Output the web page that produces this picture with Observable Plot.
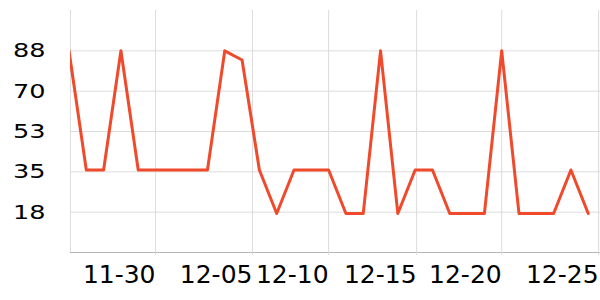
<!DOCTYPE html>
<html>
<head>
<meta charset="utf-8">
<script src="https://cdn.jsdelivr.net/npm/d3@7"></script>
<script src="https://cdn.jsdelivr.net/npm/@observablehq/plot@0.6"></script>
<style>
  html, body { margin: 0; padding: 0; background: #fff; }
</style>
</head>
<body>
<div id="chart"></div>
<script>
// Daily values from 2023-11-25 to 2023-12-25
const startDay = "2023-11-25";
const values = [88, 36, 36, 88, 36, 36, 36, 36, 36, 88, 84, 36, 17, 36, 36, 36, 17, 17, 88, 17, 36, 36, 17, 17, 17, 88, 17, 17, 17, 36, 17];
const dates = values.map((_, i) => d3.utcDay.offset(new Date(startDay + "T00:00Z"), i));

// Axis ticks as in the reference
const xTicks = ["2023-11-30T00:00Z", "2023-12-05T14:24Z", "2023-12-10T00:00Z", "2023-12-15T02:00Z", "2023-12-20T00:00Z", "2023-12-25T14:24Z"].map(s => new Date(s));
const xDomain = ["2023-11-25T02:05Z", "2023-12-25T17:00Z"].map(s => new Date(s));
const yTicks = [17.6, 35.2, 52.8, 70.4, 88];
const yMax = 105.6;

const data = dates.map((d, i) => ({date: d, value: values[i]}));

const chart = Plot.plot({
  width: 600,
  height: 300,
  marginLeft: 70,
  marginRight: 0,
  marginTop: 10,
  marginBottom: 48,
  style: {fontFamily: "DejaVu Sans", background: "#fff", color: "#000"},
  x: {type: "utc", domain: xDomain, label: null},
  y: {domain: [0, yMax], label: null},
  marks: [
    Plot.gridY(yTicks, {stroke: "#dcdcdc", strokeOpacity: 1}),
    Plot.gridX(xTicks, {stroke: "#dcdcdc", strokeOpacity: 1}),
    Plot.ruleX([xDomain[0]], {stroke: "#dcdcdc"}),
    Plot.ruleY([0], {stroke: "#b4b4b4"}),
    Plot.axisX({ticks: xTicks, tickFormat: d3.utcFormat("%m-%d"), tickSize: 3, tickPadding: 9.5, textAnchor: "end", fontSize: 25, stroke: "#dcdcdc", fill: "#000", label: null}),
    Plot.axisY({ticks: yTicks, tickFormat: d3.format(".0f"), tickSize: 0, tickPadding: 0, textAnchor: "start", dx: -57.5, fontSize: 20, fill: "#000", label: null}),
    Plot.lineY(data, {x: "date", y: "value", stroke: "#ef4a2c", strokeWidth: 3, clip: true})
  ]
});

// widen the y tick labels horizontally, as in the reference
chart.querySelectorAll('[aria-label="y-axis tick label"] text').forEach(t => {
  const tr = t.getAttribute("transform");
  if (tr && tr.includes("translate")) {
    t.setAttribute("transform", tr + " scale(1.28,1)");
  } else {
    const x = t.getAttribute("x") || 0, y = t.getAttribute("y") || 0;
    t.removeAttribute("x"); t.removeAttribute("y");
    t.setAttribute("transform", `translate(${x},${y}) scale(1.28,1)`);
  }
});

document.getElementById("chart").appendChild(chart);
</script>
</body>
</html>
